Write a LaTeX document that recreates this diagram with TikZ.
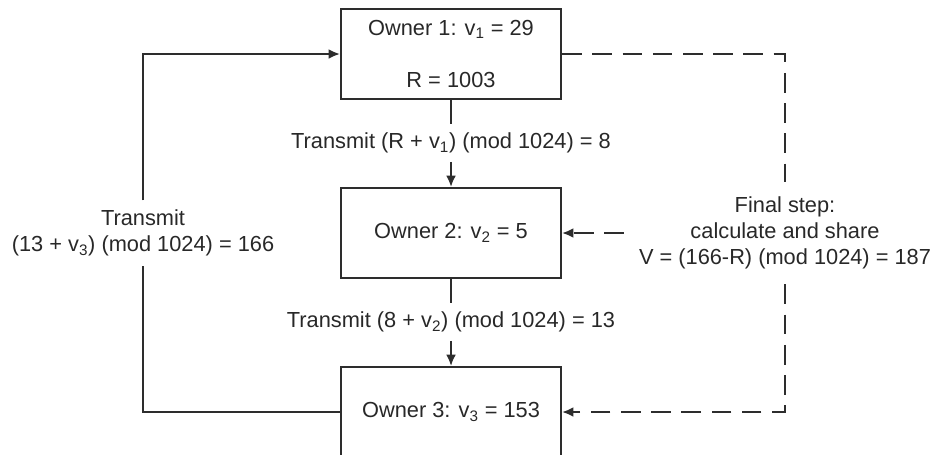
\documentclass[tikz,border=0pt]{standalone}
\usepackage{fontspec}
\setmainfont{Liberation Sans}
\usepackage{tikz}
\usetikzlibrary{arrows.meta}
\definecolor{LineDark}{RGB}{45,45,45}
\definecolor{TextDark}{RGB}{40,40,40}

\begin{document}
\begin{tikzpicture}[>={Latex[length=8pt,width=7pt]},x=0.025cm,y=-0.025cm,
  every node/.style={font=\fontsize{15.5}{18.6}\selectfont,text=TextDark},
  owner/.style={draw=LineDark,line width=1.5pt,minimum width=5.5cm,minimum height=2.25cm,align=center,inner sep=0pt},
  msg/.style={align=center,inner sep=6pt},
  link/.style={draw=LineDark,line width=1.4pt},
  share/.style={link,dash pattern=on 14pt off 7.5pt}]
  \useasboundingbox (0,0) rectangle (932,454);
  \node[owner] (own1) at (451,54) {Owner 1: v\textsubscript{1} = 29\\[18.6pt]R = 1003};
  \node[owner] (own2) at (451,233) {Owner 2: v\textsubscript{2} = 5};
  \node[owner] (own3) at (451,412) {Owner 3: v\textsubscript{3} = 153};
  \node[msg] (tr1) at (451,143) {Transmit (R + v\textsubscript{1}) (mod 1024) = 8};
  \node[msg] (tr2) at (451,322) {Transmit (8 + v\textsubscript{2}) (mod 1024) = 13};
  \node[msg,inner sep=6.4pt] (tr3) at (143,233) {Transmit\\(13 + v\textsubscript{3}) (mod 1024) = 166};
  \node[msg,inner sep=10.5pt] (fin) at (785,233) {Final step:\\calculate and share\\V = (166-R) (mod 1024) = 187};
  \draw[link] (own1) -- (tr1);
  \draw[link,->] (tr1) -- (own2);
  \draw[link] (own2) -- (tr2);
  \draw[link,->] (tr2) -- (own3);
  \draw[link] (own3.west) -| (tr3.south);
  \draw[link,->] (tr3.north) |- (own1.west);
  \draw[share] (own1.east) -| (fin.north);
  \draw[share,->] (fin.south) |- (own3.east);
  \draw[share,->] (fin.west) -- (own2.east);
\end{tikzpicture}
\end{document}
